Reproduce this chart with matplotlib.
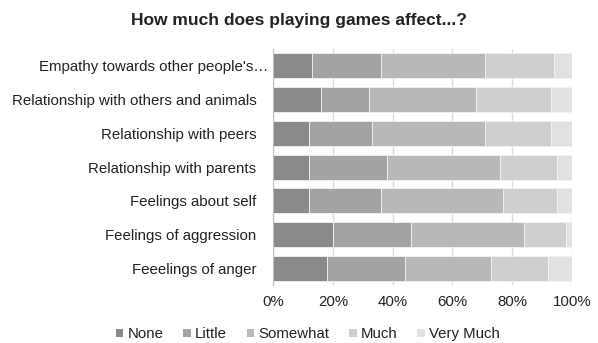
import matplotlib
matplotlib.use("Agg")
import matplotlib.pyplot as plt
import numpy as np
from matplotlib.patches import Patch
from matplotlib.transforms import ScaledTranslation

plt.rcParams['font.family'] = ['Liberation Sans', 'DejaVu Sans']

categories = [
    "Empathy towards other people's\u2026",
    "Relationship with others and animals",
    "Relationship with peers",
    "Relationship with parents",
    "Feelings about self",
    "Feelings of aggression",
    "Feeelings of anger",
]
series_names = ["None", "Little", "Somewhat", "Much", "Very Much"]
none_vals = [13, 16, 12, 12, 12, 20, 18]
little_vals = [23, 16, 21, 26, 24, 26, 26]
somewhat_vals = [35, 36, 38, 38, 41, 38, 29]
much_vals = [23, 25, 22, 19, 18, 14, 19]
very_vals = [6, 7, 7, 5, 5, 2, 8]
xticks = [0, 20, 40, 60, 80, 100]
xtick_labels = ["0%", "20%", "40%", "60%", "80%", "100%"]
colors = ["#8a8a8c", "#a3a3a5", "#b8b8ba", "#cfcfd0", "#e1e1e2"]

fig = plt.figure(figsize=(5.98, 3.43), dpi=100)
ax = fig.add_axes([0.457, 0.169, 0.499, 0.688])

series = [none_vals, little_vals, somewhat_vals, much_vals, very_vals]
y = np.arange(len(categories))
left = np.zeros(len(categories))
for name, vals, c in zip(series_names, series, colors):
    ax.barh(y, vals, left=left, height=0.74, color=c, edgecolor='#f2f2f2',
            linewidth=0.6, label=name, zorder=3)
    left += np.array(vals)

ax.set_ylim(len(categories) - 0.5, -0.5)
ax.set_xlim(0, 100)
ax.set_yticks(y)
ax.set_yticklabels(categories, fontsize=10.8, color='#222222')
ax.set_xticks(xticks)
ax.set_xticklabels(xtick_labels, fontsize=10.8, color='#222222')
ax.tick_params(axis='y', length=0, pad=12)
ax.tick_params(axis='x', length=0, pad=7)
ax.grid(axis='x', color='#dcdcdc', linewidth=1.0, zorder=0)
for s in ['top', 'right', 'bottom']:
    ax.spines[s].set_visible(False)
ax.spines['left'].set_color('#bfbfbf')
ax.spines['left'].set_zorder(4)

# first label overflows toward the axis (truncated label)
lbl0 = ax.get_yticklabels()[0]
lbl0.set_transform(lbl0.get_transform() + ScaledTranslation(0.12, 0, fig.dpi_scale_trans))

fig.suptitle("How much does playing games affect...?", x=0.5, y=0.962,
             fontsize=12.5, fontweight='bold', color='#222222')

handles = [Patch(facecolor=c, edgecolor='none') for c in colors]
fig.legend(handles, series_names, loc='center', bbox_to_anchor=(0.515, 0.025),
           ncol=5, frameon=False, fontsize=10.8, handlelength=0.5, handleheight=0.5,
           handletextpad=0.3, columnspacing=1.3, labelcolor='#222222',
           borderaxespad=0, borderpad=0)

fig.savefig("out.png", dpi=100)
